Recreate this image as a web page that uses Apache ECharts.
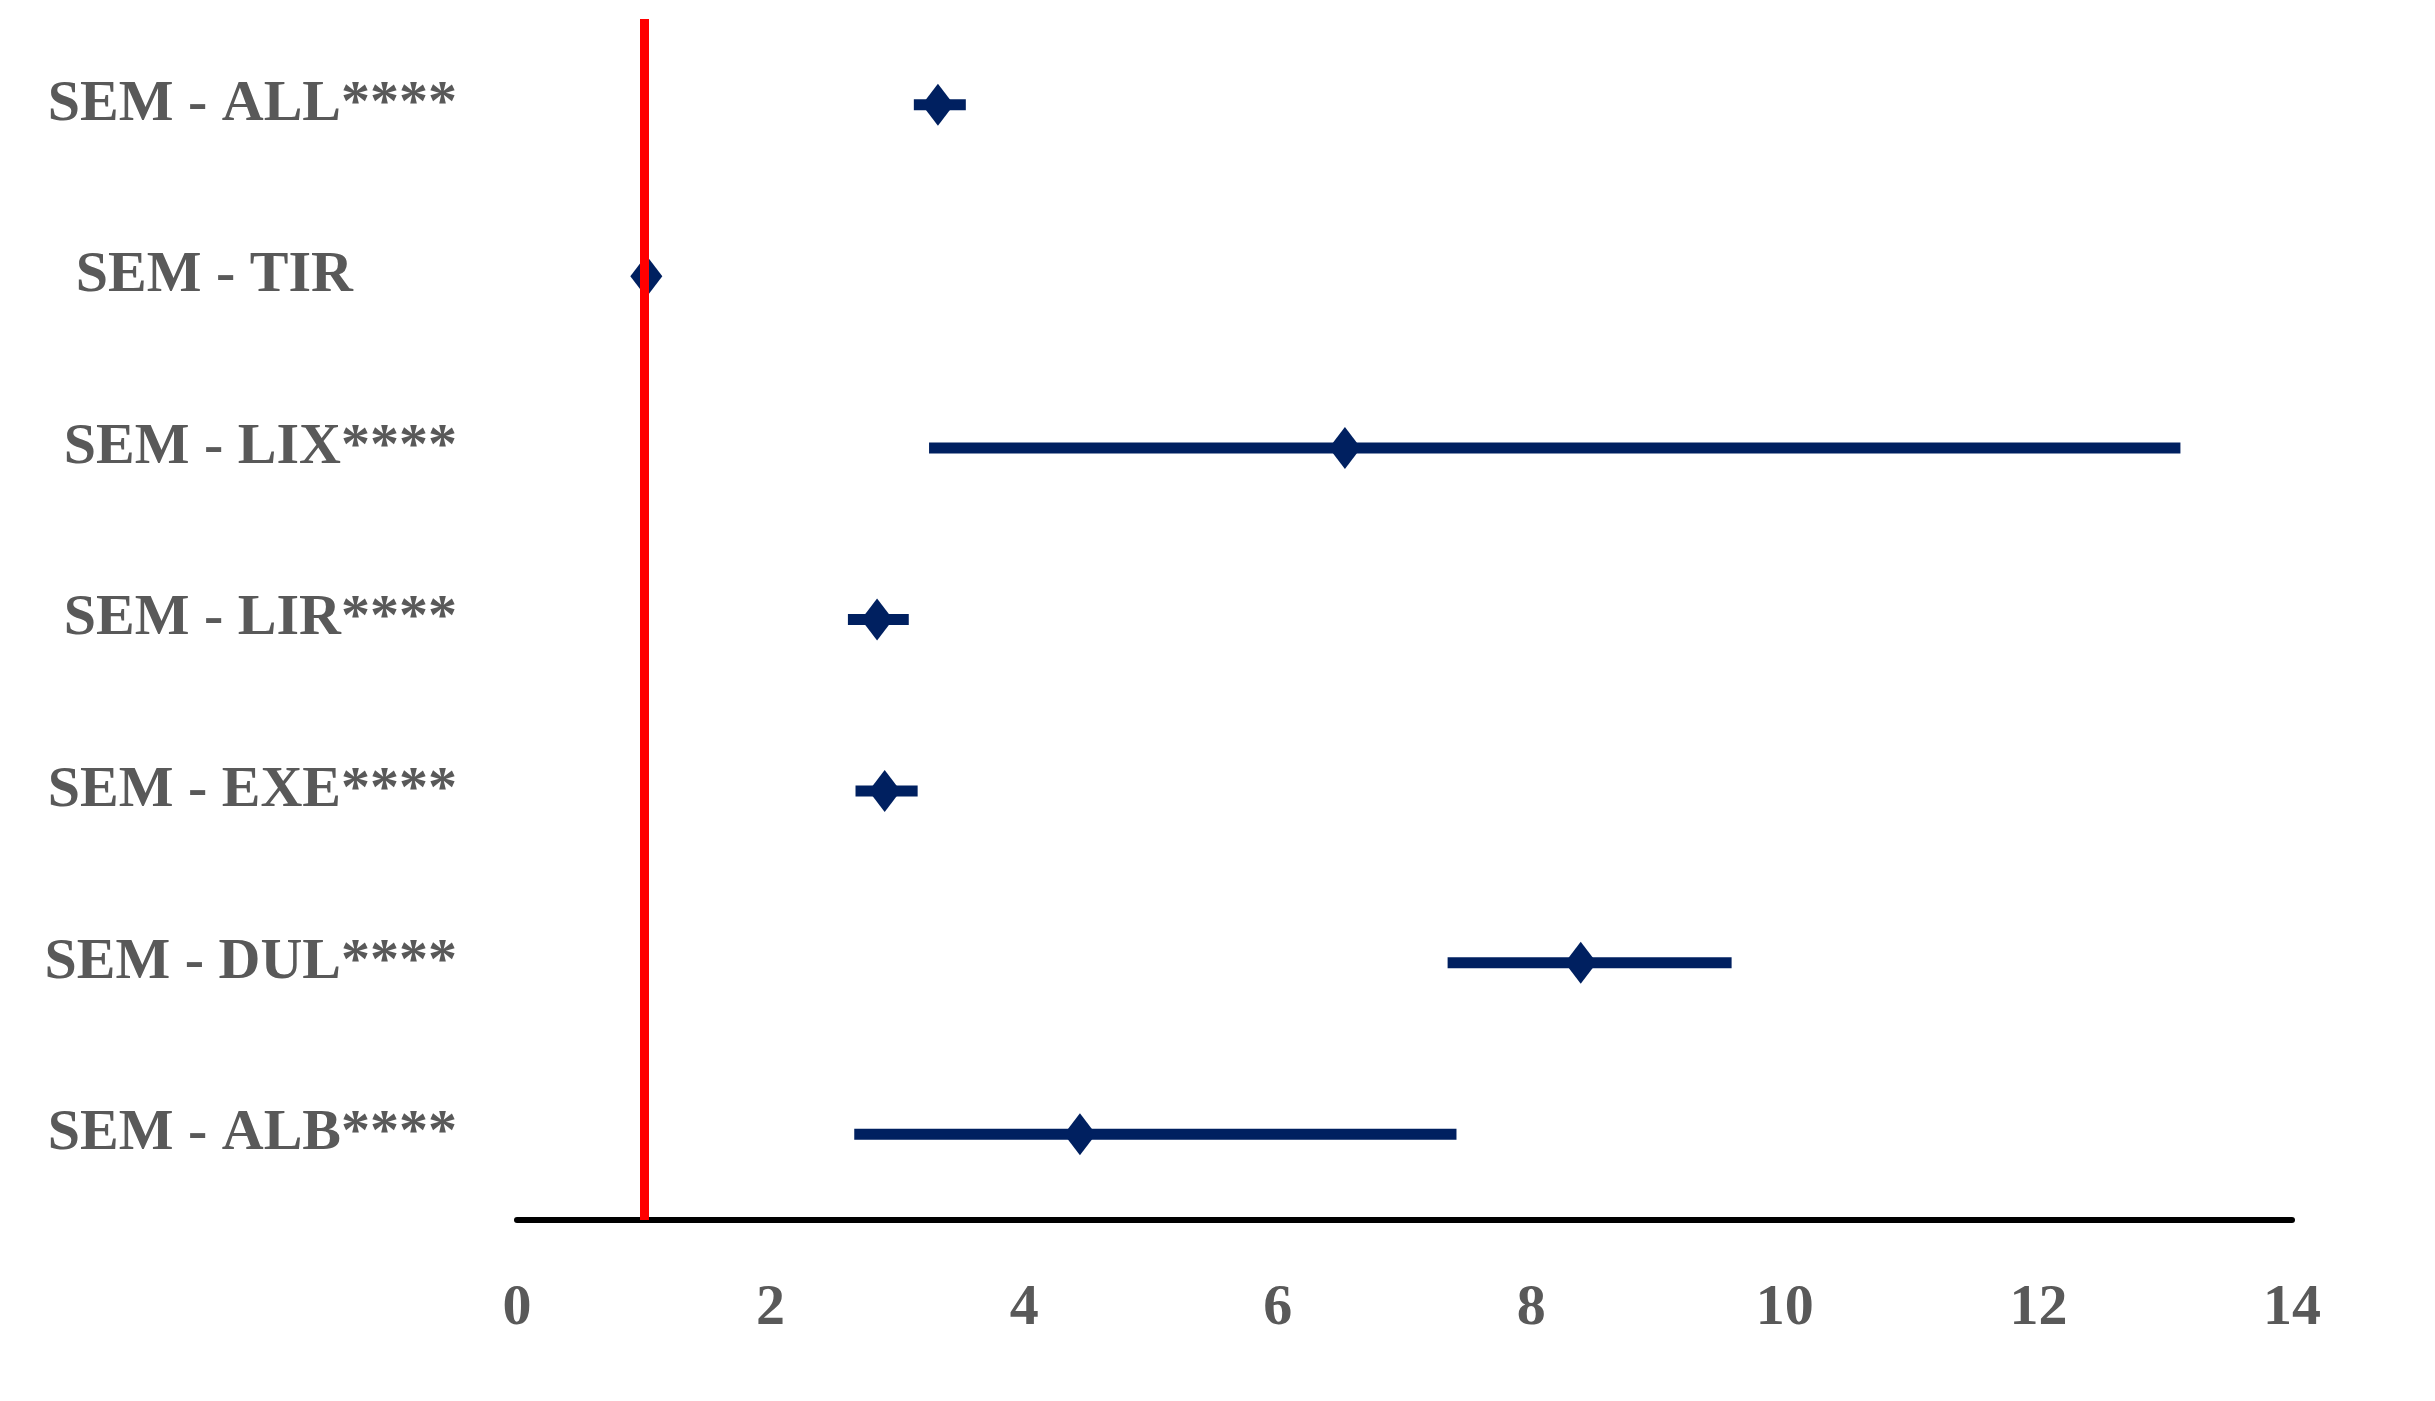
<!DOCTYPE html>
<html>
<head>
<meta charset="utf-8">
<script src="https://cdn.jsdelivr.net/npm/echarts@6/dist/echarts.min.js"></script>
<style>
  html, body { margin: 0; padding: 0; background: #fff; }
  #chart { width: 2435px; height: 1401px; }
</style>
</head>
<body>
<div id="chart"></div>
<script>
// categories top to bottom
var categories = ['SEM - ALL****', 'SEM - TIR', 'SEM - LIX****', 'SEM - LIR****', 'SEM - EXE****', 'SEM - DUL****', 'SEM - ALB****'];
// point estimate and interval ends
var estimates = [3.32, 1.02, 6.53, 2.84, 2.90, 8.39, 4.44];
var lower     = [3.13, 1.00, 3.25, 2.61, 2.67, 7.34, 2.66];
var upper     = [3.54, 1.04, 13.12, 3.09, 3.16, 9.58, 7.41];
var xTicks = [0, 2, 4, 6, 8, 10, 12, 14];
var refValue = 1;

var navy = '#002060';
var labelFont = { fontFamily: 'Liberation Serif', fontWeight: 'bold', fontSize: 58, color: '#595959' };

var intervals = categories.map(function (c, i) { return [lower[i], upper[i], i]; });
var points = categories.map(function (c, i) { return [estimates[i], i]; });

var chart = echarts.init(document.getElementById('chart'));
chart.setOption({
  animation: false,
  grid: { left: 517, right: 143, top: 19, bottom: 181 },
  xAxis: {
    type: 'value',
    min: xTicks[0],
    max: xTicks[xTicks.length - 1],
    interval: 2,
    axisLine: { show: true, lineStyle: { color: '#000', width: 6 } },
    axisTick: { show: false },
    splitLine: { show: false },
    axisLabel: Object.assign({ margin: 60 }, labelFont)
  },
  yAxis: {
    type: 'category',
    data: categories,
    inverse: true,
    axisLine: { show: false },
    axisTick: { show: false },
    splitLine: { show: false },
    axisLabel: Object.assign({
      margin: 60,
      // labels without stars keep the space the stars would take, as in the original
      formatter: function (v) {
        return v.indexOf('*') < 0 ? '{pad|' + v + '}' : v;
      },
      rich: { pad: Object.assign({ padding: [0, 104, 0, 0] }, labelFont) }
    }, labelFont)
  },
  series: [
    {
      type: 'custom',
      data: intervals,
      encode: { x: [0, 1], y: 2 },
      renderItem: function (params, api) {
        var a = api.coord([api.value(0), api.value(2)]);
        var b = api.coord([api.value(1), api.value(2)]);
        return {
          type: 'line',
          shape: { x1: a[0], y1: a[1], x2: b[0], y2: b[1] },
          style: { stroke: navy, lineWidth: 11 }
        };
      },
      z: 2
    },
    {
      type: 'scatter',
      data: points,
      symbol: 'diamond',
      symbolSize: [32, 42],
      itemStyle: { color: navy, opacity: 1 },
      z: 3
    },
    {
      type: 'scatter',
      data: [],
      z: 5,
      markLine: {
        silent: true,
        symbol: 'none',
        label: { show: false },
        lineStyle: { color: '#FF0000', width: 9, type: 'solid' },
        data: [{ xAxis: refValue }]
      }
    }
  ]
});
</script>
</body>
</html>
